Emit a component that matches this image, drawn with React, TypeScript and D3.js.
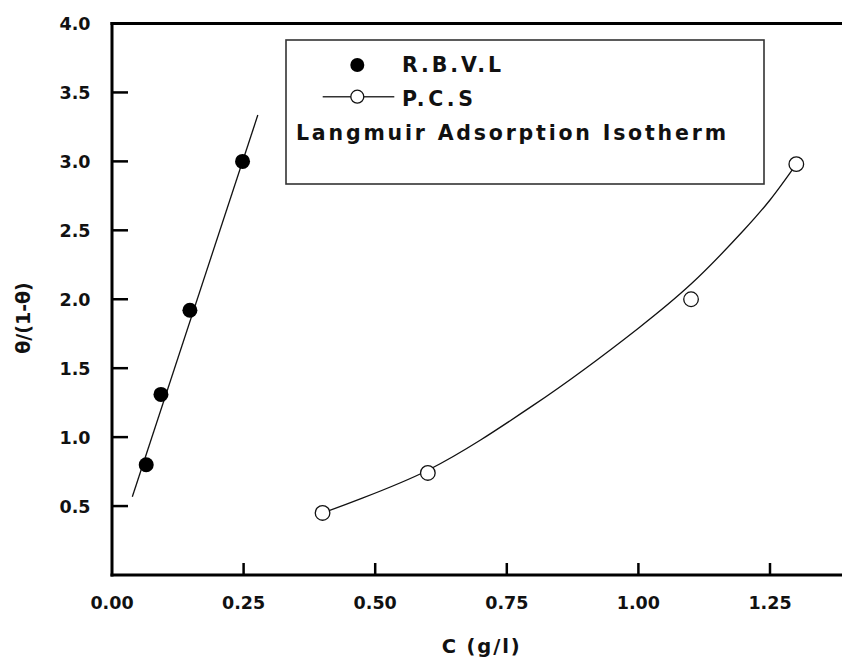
import React from "react";
import * as d3 from "d3";

const rbvlX = [0.065, 0.093, 0.148, 0.248];
const rbvlY = [0.8, 1.31, 1.92, 3.0];
const rbvlFitX = [0.0386, 0.277];
const rbvlFitY = [0.568, 3.336];

const pcsX = [0.4, 0.6, 1.1, 1.3];
const pcsY = [0.45, 0.74, 2.0, 2.98];
const pcsFitX = [0.4, 0.6, 0.8, 1.0, 1.1, 1.2, 1.25, 1.3];
const pcsFitY = [0.45, 0.76, 1.23, 1.79, 2.11, 2.5, 2.72, 2.98];

const xTicks = [0, 0.25, 0.5, 0.75, 1.0, 1.25];
const yTicks = [0.5, 1.0, 1.5, 2.0, 2.5, 3.0, 3.5, 4.0];

const legendNames = ["R.B.V.L", "P.C.S"];
const legendTitle = "Langmuir Adsorption Isotherm";
const xTitle = "C (g/l)";
const yTitle = "θ/(1-θ)";

const W = 842;
const H = 666;

export default function App() {
  const x = d3.scaleLinear().domain([0, 1.4]).range([112, 112 + 1.4 * 526.4]);
  const y = d3.scaleLinear().domain([0, 4]).range([575, 23.5]);
  const line = d3
    .line<[number, number]>()
    .x((d) => x(d[0]))
    .y((d) => y(d[1]));
  const curve = d3
    .line<[number, number]>()
    .x((d) => x(d[0]))
    .y((d) => y(d[1]))
    .curve(d3.curveCatmullRom.alpha(0.5));

  const rbvlFit = rbvlFitX.map((v, i) => [v, rbvlFitY[i]] as [number, number]);
  const pcsFit = pcsFitX.map((v, i) => [v, pcsFitY[i]] as [number, number]);

  const font = "'DejaVu Sans', 'Liberation Sans', Arial, sans-serif";
  const x0 = x(0);
  const xEnd = W + 10;
  const yTop = y(4);
  const yBot = y(0);

  return (
    <svg
      width={W}
      height={H}
      style={{ position: "absolute", left: 0, top: 0, background: "#fff" }}
      fontFamily={font}
    >
      <rect x={0} y={0} width={W} height={H} fill="#fff" />
      {/* fit lines */}
      <path d={line(rbvlFit) || ""} fill="none" stroke="#111" strokeWidth={1.3} />
      <path d={curve(pcsFit) || ""} fill="none" stroke="#111" strokeWidth={1.3} />
      {/* points */}
      {rbvlX.map((v, i) => (
        <circle key={"r" + i} cx={x(v)} cy={y(rbvlY[i])} r={7.5} fill="#000" />
      ))}
      {pcsX.map((v, i) => (
        <circle
          key={"p" + i}
          cx={x(v)}
          cy={y(pcsY[i])}
          r={7.3}
          fill="#fff"
          stroke="#111"
          strokeWidth={1.3}
        />
      ))}
      {/* axes */}
      <line x1={x0} x2={x0} y1={yTop - 1.5} y2={yBot + 1.5} stroke="#000" strokeWidth={3} />
      <line x1={x0 - 1.5} x2={xEnd} y1={yBot} y2={yBot} stroke="#000" strokeWidth={3} />
      <line x1={x0 - 1.5} x2={xEnd} y1={yTop} y2={yTop} stroke="#000" strokeWidth={3} />
      {yTicks.slice(0, -1).map((t) => (
        <line key={"yt" + t} x1={x0} x2={x0 + 16} y1={y(t)} y2={y(t)} stroke="#000" strokeWidth={2.5} />
      ))}
      {xTicks.slice(1).map((t) => (
        <line key={"xt" + t} x1={x(t)} x2={x(t)} y1={yBot} y2={yBot - 12} stroke="#000" strokeWidth={2.5} />
      ))}
      {yTicks.map((t) => (
        <text
          key={"yl" + t}
          x={90.5}
          y={y(t) + 6.5}
          textAnchor="end"
          fontSize={17.5}
          fontWeight="bold"
          fill="#111"
        >
          {d3.format(".1f")(t)}
        </text>
      ))}
      {xTicks.map((t) => (
        <text
          key={"xl" + t}
          x={x(t)}
          y={609}
          textAnchor="middle"
          fontSize={17.5}
          fontWeight="bold"
          fill="#111"
        >
          {d3.format(".2f")(t)}
        </text>
      ))}
      {/* axis titles */}
      <text x={441.7} y={653} fontSize={19.5} fontWeight="bold" textLength={78} lengthAdjust="spacing" fill="#111">
        {xTitle}
      </text>
      <text
        transform="translate(30,318) rotate(-90)"
        textAnchor="middle"
        fontSize={19}
        fontWeight="bold"
        fill="#111"
      >
        {yTitle}
      </text>
      {/* legend */}
      <rect x={286} y={40} width={478} height={144} fill="#fff" stroke="#333" strokeWidth={1.6} />
      <circle cx={357.3} cy={65} r={7} fill="#000" />
      <line x1={322.7} x2={394.3} y1={96.7} y2={96.7} stroke="#333" strokeWidth={1.5} />
      <circle cx={357.3} cy={96.7} r={6.5} fill="#fff" stroke="#111" strokeWidth={1.3} />
      <text x={402} y={71.7} fontSize={20.5} fontWeight="bold" textLength={99} lengthAdjust="spacing" fill="#111">
        {legendNames[0]}
      </text>
      <text x={402} y={105.5} fontSize={20.5} fontWeight="bold" textLength={71} lengthAdjust="spacing" fill="#111">
        {legendNames[1]}
      </text>
      <text x={296} y={139.5} fontSize={20.5} fontWeight="bold" textLength={430} lengthAdjust="spacing" fill="#111">
        {legendTitle}
      </text>
    </svg>
  );
}
